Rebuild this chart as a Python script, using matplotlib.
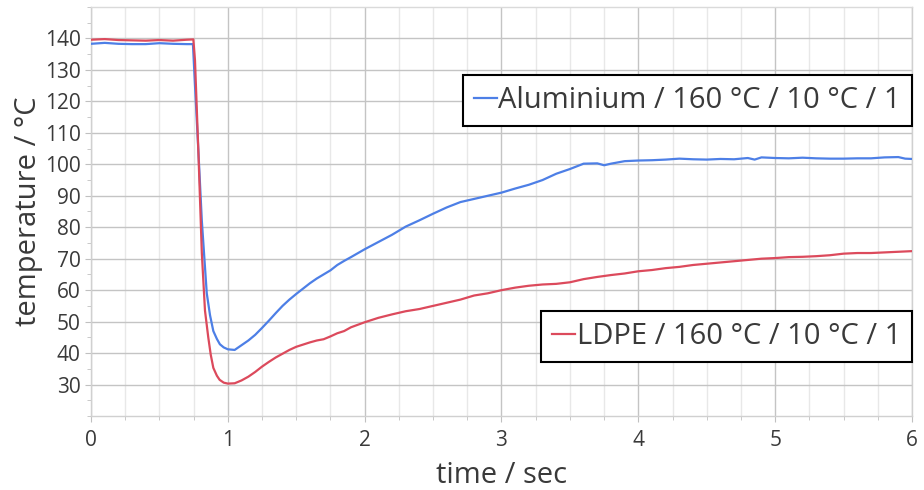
import numpy as np
import matplotlib
matplotlib.use('Agg')
import matplotlib.pyplot as plt
from matplotlib.ticker import MultipleLocator

# Aluminium / 160 °C / 10 °C / 1  (time in sec, temperature in °C)
t_alu = [0.0, 0.1, 0.2, 0.3, 0.4, 0.5, 0.6, 0.7, 0.745, 0.76, 0.785, 0.81, 0.846,
         0.87, 0.894, 0.92, 0.942, 0.97, 1.0, 1.05, 1.1, 1.15, 1.2, 1.25, 1.3, 1.35,
         1.4, 1.45, 1.5, 1.55, 1.6, 1.65, 1.7, 1.75, 1.8, 1.85, 1.9, 2.0, 2.1, 2.2,
         2.3, 2.4, 2.5, 2.6, 2.7, 2.8, 2.9, 3.0, 3.1, 3.2, 3.3, 3.4, 3.5, 3.6, 3.7,
         3.75, 3.8, 3.9, 4.0, 4.1, 4.2, 4.3, 4.4, 4.5, 4.6, 4.7, 4.8, 4.85, 4.9, 5.0,
         5.1, 5.2, 5.3, 5.4, 5.5, 5.6, 5.7, 5.8, 5.9, 5.95, 6.0]
temp_alu = [138.3, 138.6, 138.3, 138.2, 138.2, 138.5, 138.3, 138.2, 138.2, 125.0,
            104.0, 82.0, 59.0, 52.0, 47.0, 44.5, 42.8, 41.8, 41.2, 41.0, 42.5, 44.0,
            45.8, 48.0, 50.3, 52.7, 55.0, 57.0, 58.8, 60.5, 62.2, 63.7, 65.0, 66.3,
            68.0, 69.3, 70.5, 73.0, 75.3, 77.6, 80.2, 82.2, 84.3, 86.3, 88.0, 89.0,
            90.0, 91.0, 92.3, 93.5, 95.0, 97.0, 98.5, 100.2, 100.3, 99.7, 100.2,
            101.0, 101.2, 101.3, 101.5, 101.8, 101.6, 101.5, 101.7, 101.6, 102.0,
            101.5, 102.2, 102.0, 101.9, 102.1, 101.9, 101.8, 101.8, 101.9, 101.9,
            102.2, 102.3, 101.8, 101.7]

# LDPE / 160 °C / 10 °C / 1
t_ldpe = [0.0, 0.1, 0.2, 0.3, 0.4, 0.5, 0.6, 0.7, 0.748, 0.76, 0.785, 0.81, 0.833,
          0.857, 0.875, 0.894, 0.92, 0.94, 0.97, 1.0, 1.05, 1.1, 1.15, 1.2, 1.25,
          1.3, 1.35, 1.4, 1.45, 1.5, 1.55, 1.6, 1.65, 1.7, 1.75, 1.8, 1.85, 1.9,
          2.0, 2.1, 2.2, 2.3, 2.4, 2.5, 2.6, 2.7, 2.8, 2.9, 3.0, 3.1, 3.2, 3.3, 3.4,
          3.5, 3.6, 3.7, 3.8, 3.9, 4.0, 4.1, 4.2, 4.3, 4.4, 4.5, 4.6, 4.7, 4.8, 4.9,
          5.0, 5.1, 5.2, 5.3, 5.4, 5.5, 5.6, 5.7, 5.8, 5.9, 6.0]
temp_ldpe = [139.6, 139.8, 139.5, 139.4, 139.3, 139.5, 139.3, 139.6, 139.7, 133.0,
             103.7, 71.7, 53.5, 45.0, 39.5, 35.3, 32.8, 31.5, 30.6, 30.3, 30.4,
             31.3, 32.5, 34.0, 35.7, 37.2, 38.6, 39.8, 41.0, 42.0, 42.7, 43.4, 44.0,
             44.4, 45.3, 46.3, 47.0, 48.2, 49.8, 51.2, 52.3, 53.3, 54.0, 55.0, 56.0,
             57.0, 58.3, 59.0, 60.0, 60.8, 61.4, 61.8, 62.0, 62.5, 63.5, 64.2, 64.8,
             65.3, 66.0, 66.4, 67.0, 67.4, 68.0, 68.4, 68.8, 69.2, 69.6, 70.0, 70.2,
             70.5, 70.6, 70.8, 71.1, 71.6, 71.8, 71.8, 72.0, 72.2, 72.4]

labels = ['Aluminium / 160 °C / 10 °C / 1', 'LDPE / 160 °C / 10 °C / 1']
y_ticks = list(range(30, 150, 10))
x_ticks = [0, 1, 2, 3, 4, 5, 6]

plt.rcParams['font.family'] = ['Open Sans', 'DejaVu Sans']
text_col = '#3a3a3a'

fig = plt.figure(figsize=(9.24, 4.9), dpi=100)
ax = fig.add_axes([91/924, 1 - 416/490, (912 - 91)/924, (416 - 7)/490])

blue = '#4d7fe6'
red = '#dc4a5c'
l1, = ax.plot(t_alu, temp_alu, color=blue, lw=1.6, zorder=3)
l2, = ax.plot(t_ldpe, temp_ldpe, color=red, lw=1.6, zorder=3)

ax.set_xlim(0, 6)
ax.set_ylim(20, 150)
ax.set_xticks(x_ticks)
ax.set_yticks(y_ticks)
ax.xaxis.set_minor_locator(MultipleLocator(0.25))
ax.yaxis.set_minor_locator(MultipleLocator(5))

ax.grid(True, which='major', color='#c4c4c4', lw=1.0)
ax.grid(True, which='minor', axis='x', color='#e8e8e8', lw=1.0)
for s in ['left', 'bottom', 'right', 'top']:
    ax.spines[s].set_color('#d0d0d0')
    ax.spines[s].set_linewidth(1.0)
ax.spines['top'].set_color('#dadada')
ax.tick_params(which='both', colors='#c0c0c0', labelcolor=text_col, labelsize=15)
ax.tick_params(which='major', length=4)
ax.tick_params(which='minor', length=3)
ax.tick_params(axis='x', pad=6)

ax.set_xlabel('time / sec', fontsize=21, color=text_col, labelpad=7)
ax.set_ylabel('temperature / °C', fontsize=21, color=text_col, labelpad=1)

# two separate legend boxes, like the original
leg_kw = dict(loc='upper right', fontsize=21, handlelength=0.8, handletextpad=0.05,
              fancybox=False, framealpha=1, edgecolor='black', borderpad=0.38,
              borderaxespad=0, labelcolor=text_col)
leg1 = ax.legend([l1], [labels[0]], bbox_to_anchor=(1.0, 1 - (75 - 7)/409), **leg_kw)
leg1.get_frame().set_linewidth(1.5)
ax.add_artist(leg1)
leg2 = ax.legend([l2], [labels[1]], bbox_to_anchor=(1.0, 1 - (311 - 7)/409), **leg_kw)
leg2.get_frame().set_linewidth(1.5)

fig.savefig('out.png', dpi=100)
